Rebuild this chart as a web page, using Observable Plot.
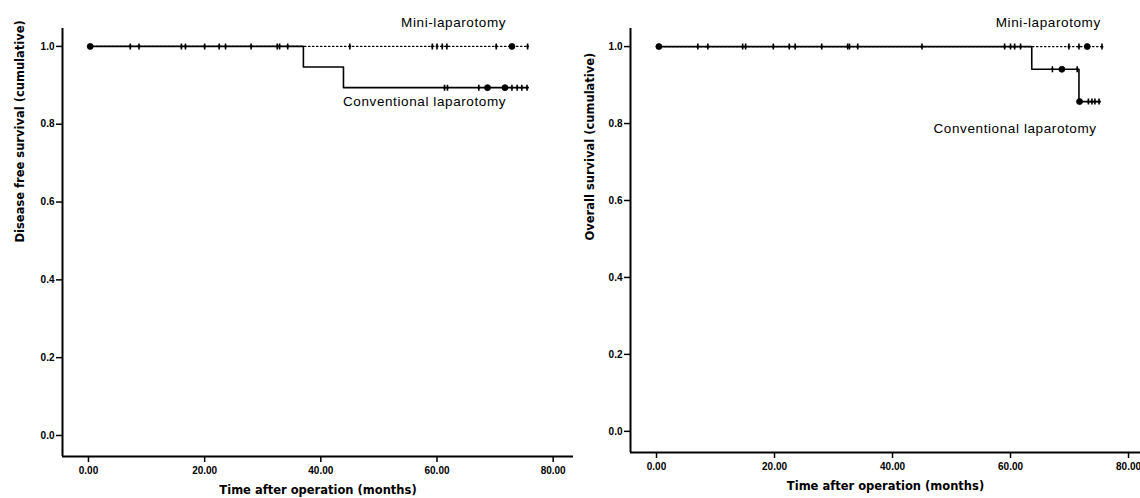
<!DOCTYPE html>
<html><head><meta charset="utf-8">
<script src="https://cdn.jsdelivr.net/npm/d3@7"></script>
<script src="https://cdn.jsdelivr.net/npm/@observablehq/plot@0.6"></script>
<style>
body{margin:0;background:#fff;}
#wrap{position:relative;width:1140px;height:498px;overflow:hidden;background:#fff;}
#left{position:absolute;left:0;top:0;}
#right{position:absolute;left:575px;top:0;}
svg{overflow:visible;}
</style></head><body><div id="wrap"><div id="left"></div><div id="right"></div></div>
<script>
// ---------- data ----------
const yTicks = [0, 0.2, 0.4, 0.6, 0.8, 1.0];
const xTicks = [0, 20, 40, 60, 80];
const xTitle = "Time after operation (months)";
const groupNames = ["Mini-laparotomy", "Conventional laparotomy"];

// Disease free survival (left panel)
const dfsTitle = "Disease free survival (cumulative)";
const dfsMiniTimes = [0, 75.6];
const dfsMiniSurv  = [1, 1];
const dfsConvTimes = [0, 37.0, 43.9, 75.7];
const dfsConvSurv  = [1, 0.947, 0.894, 0.894];
const dfsMiniCensor = [0.3, 0.3, 7.2, 8.7, 16.0, 16.7, 20.0, 22.5, 23.6, 28.0, 32.5, 32.9, 34.3,
                       45.0, 59.2, 60.0, 60.9, 61.7, 70.2, 72.9, 72.9, 75.6];
const dfsConvCensor = [61.3, 61.8, 67.2, 68.7, 68.7, 71.7, 71.7, 71.7, 72.9, 73.8, 74.6, 75.5];
const dfsLabelX = [71.9, 71.9];
const dfsLabelY = [1.062, 0.857];

// Overall survival (right panel)
const osTitle = "Overall survival (cumulative)";
const osMiniTimes = [0, 75.8];
const osMiniSurv  = [1, 1];
const osConvTimes = [0, 63.6, 71.6, 75.2];
const osConvSurv  = [1, 0.941, 0.857, 0.857];
const osMiniCensor = [0.4, 0.4, 7.0, 8.7, 14.6, 15.1, 19.8, 22.5, 23.5, 28.0, 32.4, 32.7, 34.1,
                      45.0, 59.0, 60.0, 60.7, 61.7, 69.9, 71.6, 73.0, 73.0, 75.5];
const osConvCensor = [67.1, 68.7, 68.7, 71.3, 71.7, 71.7, 73.2, 73.8, 74.3, 75.0];
const osLabelX = [75.3, 74.6];
const osLabelY = [1.062, 0.787];

// ---------- helpers ----------
function curve(times, surv) { return times.map((t, i) => ({t, s: surv[i]})); }
function survAt(times, surv, t) {
  let s = surv[0];
  for (let i = 0; i < times.length; i++) if (times[i] <= t) s = surv[i];
  return s;
}
function censorPts(censor, times, surv) {
  const counts = d3.rollups(censor, v => v.length, d => d);
  return counts.map(([t, n]) => ({t, n, s: survAt(times, surv, t)}));
}
const vtick = {
  draw(ctx, size) {
    const r = Math.sqrt(size / Math.PI);
    ctx.moveTo(0, -r); ctx.lineTo(0, r);
    ctx.moveTo(-r * 0.45, 0); ctx.lineTo(r * 0.45, 0);
  }
};

function panel(opts) {
  const mini = curve(opts.miniTimes, opts.miniSurv);
  const conv = curve(opts.convTimes, opts.convSurv);
  const cens = [
    ...censorPts(opts.miniCensor, opts.miniTimes, opts.miniSurv),
    ...censorPts(opts.convCensor, opts.convTimes, opts.convSurv)
  ];
  const labels = groupNames.map((g, i) => ({g, x: opts.labelX[i], y: opts.labelY[i]}));
  const p = Plot.plot({
    width: opts.width, height: 498,
    marginLeft: opts.marginLeft, marginRight: opts.marginRight,
    marginTop: 28, marginBottom: opts.marginBottom,
    x: {domain: opts.xDomain},
    y: {domain: opts.yDomain},
    style: {fontFamily: "'Liberation Sans', Arial, sans-serif", fontSize: "10px", color: "#000", background: "#fff"},
    marks: [
      Plot.ruleX([opts.xDomain[0]], {stroke: "#000", strokeWidth: 2}),
      Plot.ruleY([opts.yDomain[0]], {stroke: "#000", strokeWidth: 2}),
      Plot.axisY({ticks: yTicks, tickFormat: d3.format(".1f"), tickSize: 6, tickPadding: 2, label: null, fontWeight: "bold", strokeWidth: 1.5}),
      Plot.axisX({ticks: xTicks, tickFormat: d3.format(".2f"), tickSize: 6, tickPadding: 4, label: null, fontWeight: "bold", strokeWidth: 1.5}),
      Plot.line(mini, {x: "t", y: "s", curve: "step-after", stroke: "#000", strokeWidth: 1.2, strokeDasharray: "1.5,2.5"}),
      Plot.line(conv, {x: "t", y: "s", curve: "step-after", stroke: "#000", strokeWidth: 1.6}),
      Plot.dot(cens.filter(d => d.n === 1), {x: "t", y: "s", r: 3, symbol: vtick, stroke: "#000", strokeWidth: 1.6}),
      Plot.dot(cens.filter(d => d.n > 1), {x: "t", y: "s", r: 3, fill: "#000", stroke: "#000", strokeWidth: 0.8}),
      Plot.text(labels, {x: "x", y: "y", text: "g", textAnchor: "end", fontSize: 13.5, fill: "#000"}),
      Plot.text([xTitle], {frameAnchor: "bottom", dy: opts.xTitleDy, fontWeight: "bold", fontSize: 11.5, fontFamily: "'DejaVu Sans', sans-serif", fill: "#000"}),
      Plot.text([opts.yTitle], {frameAnchor: "left", rotate: -90, dx: opts.yTitleDx, fontWeight: "bold", fontSize: 11.5, fontFamily: "'DejaVu Sans', sans-serif", fill: "#000"})
    ]
  });
  d3.select(p).selectAll("text").filter(function() { return groupNames.includes(this.textContent); })
    .style("letter-spacing", "0.6px");
  return p;
}

document.getElementById("left").append(panel({
  width: 575, marginLeft: 62, marginRight: 2, marginBottom: 42,
  xDomain: [-4.47, 83.5], yDomain: [-0.054, 1.046],
  miniTimes: dfsMiniTimes, miniSurv: dfsMiniSurv, convTimes: dfsConvTimes, convSurv: dfsConvSurv,
  miniCensor: dfsMiniCensor, convCensor: dfsConvCensor, labelX: dfsLabelX, labelY: dfsLabelY,
  yTitle: dfsTitle, xTitleDy: 37, yTitleDx: -42
}));
document.getElementById("right").append(panel({
  width: 565, marginLeft: 55, marginRight: 0, marginBottom: 46,
  xDomain: [-4.41, 82.03], yDomain: [-0.055, 1.047],
  miniTimes: osMiniTimes, miniSurv: osMiniSurv, convTimes: osConvTimes, convSurv: osConvSurv,
  miniCensor: osMiniCensor, convCensor: osConvCensor, labelX: osLabelX, labelY: osLabelY,
  yTitle: osTitle, xTitleDy: 37, yTitleDx: -40
}));
</script></body></html>
